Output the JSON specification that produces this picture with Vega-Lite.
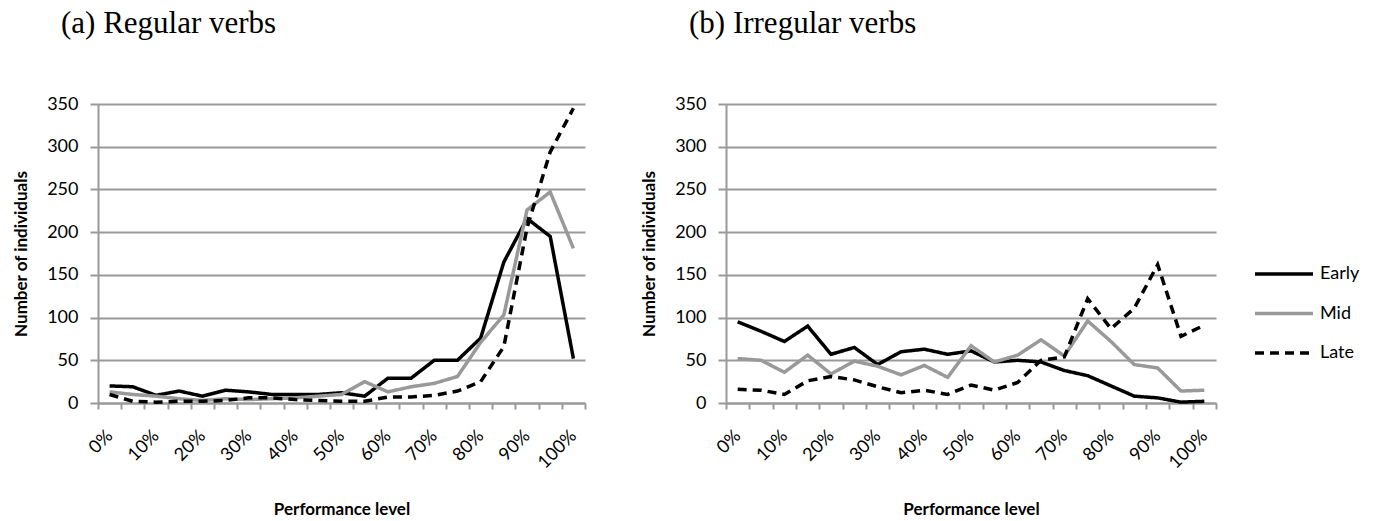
{
  "$schema": "https://vega.github.io/schema/vega-lite/v6.json",
  "background": "white",
  "padding": {"left": 12, "top": 8, "right": 0, "bottom": 0},
  "bounds": "flush",
  "spacing": 141,
  "config": {
    "view": {"stroke": null},
    "font": "Lato",
    "title": {"font": "Liberation Serif", "fontSize": 31, "fontWeight": "normal", "color": "#000000", "anchor": "start", "frame": "group", "dx": -37, "offset": 55},
    "axis": {
      "labelFont": "Lato", "labelFontSize": 18, "labelColor": "#000000",
      "titleFont": "Lato", "titleFontSize": 17, "titleFontWeight": "bold", "titleColor": "#000000",
      "domainColor": "#999999", "domainWidth": 2, "tickColor": "#999999", "tickWidth": 2,
      "gridColor": "#999999", "gridWidth": 2
    },
    "legend": {
      "labelFont": "Lato", "labelFontSize": 18, "labelColor": "#000000"
    }
  },
  "datasets": {
    "regular": [
      {"level":0,"group":"Early","count":20},{"level":5,"group":"Early","count":19},{"level":10,"group":"Early","count":9},{"level":15,"group":"Early","count":14},{"level":20,"group":"Early","count":8},{"level":25,"group":"Early","count":15},{"level":30,"group":"Early","count":13},{"level":35,"group":"Early","count":10},{"level":40,"group":"Early","count":10},{"level":45,"group":"Early","count":10},{"level":50,"group":"Early","count":12},{"level":55,"group":"Early","count":8},{"level":60,"group":"Early","count":29},{"level":65,"group":"Early","count":29},{"level":70,"group":"Early","count":50},{"level":75,"group":"Early","count":50},{"level":80,"group":"Early","count":76},{"level":85,"group":"Early","count":165},{"level":90,"group":"Early","count":216},{"level":95,"group":"Early","count":195},{"level":100,"group":"Early","count":52},
      {"level":0,"group":"Mid","count":13},{"level":5,"group":"Mid","count":10},{"level":10,"group":"Mid","count":8},{"level":15,"group":"Mid","count":5},{"level":20,"group":"Mid","count":3},{"level":25,"group":"Mid","count":5},{"level":30,"group":"Mid","count":4},{"level":35,"group":"Mid","count":5},{"level":40,"group":"Mid","count":6},{"level":45,"group":"Mid","count":8},{"level":50,"group":"Mid","count":10},{"level":55,"group":"Mid","count":25},{"level":60,"group":"Mid","count":13},{"level":65,"group":"Mid","count":19},{"level":70,"group":"Mid","count":23},{"level":75,"group":"Mid","count":31},{"level":80,"group":"Mid","count":71},{"level":85,"group":"Mid","count":103},{"level":90,"group":"Mid","count":226},{"level":95,"group":"Mid","count":247},{"level":100,"group":"Mid","count":181},
      {"level":0,"group":"Late","count":10},{"level":5,"group":"Late","count":2},{"level":10,"group":"Late","count":1},{"level":15,"group":"Late","count":2},{"level":20,"group":"Late","count":2},{"level":25,"group":"Late","count":3},{"level":30,"group":"Late","count":6},{"level":35,"group":"Late","count":6},{"level":40,"group":"Late","count":4},{"level":45,"group":"Late","count":3},{"level":50,"group":"Late","count":2},{"level":55,"group":"Late","count":2},{"level":60,"group":"Late","count":7},{"level":65,"group":"Late","count":7},{"level":70,"group":"Late","count":9},{"level":75,"group":"Late","count":14},{"level":80,"group":"Late","count":25},{"level":85,"group":"Late","count":66},{"level":90,"group":"Late","count":205},{"level":95,"group":"Late","count":294},{"level":100,"group":"Late","count":345}
    ],
    "irregular": [
      {"level":0,"group":"Early","count":95},{"level":5,"group":"Early","count":84},{"level":10,"group":"Early","count":72},{"level":15,"group":"Early","count":90},{"level":20,"group":"Early","count":57},{"level":25,"group":"Early","count":65},{"level":30,"group":"Early","count":45},{"level":35,"group":"Early","count":60},{"level":40,"group":"Early","count":63},{"level":45,"group":"Early","count":57},{"level":50,"group":"Early","count":61},{"level":55,"group":"Early","count":48},{"level":60,"group":"Early","count":50},{"level":65,"group":"Early","count":48},{"level":70,"group":"Early","count":38},{"level":75,"group":"Early","count":32},{"level":80,"group":"Early","count":20},{"level":85,"group":"Early","count":8},{"level":90,"group":"Early","count":6},{"level":95,"group":"Early","count":1},{"level":100,"group":"Early","count":2},
      {"level":0,"group":"Mid","count":52},{"level":5,"group":"Mid","count":50},{"level":10,"group":"Mid","count":36},{"level":15,"group":"Mid","count":56},{"level":20,"group":"Mid","count":34},{"level":25,"group":"Mid","count":49},{"level":30,"group":"Mid","count":43},{"level":35,"group":"Mid","count":33},{"level":40,"group":"Mid","count":44},{"level":45,"group":"Mid","count":30},{"level":50,"group":"Mid","count":67},{"level":55,"group":"Mid","count":48},{"level":60,"group":"Mid","count":56},{"level":65,"group":"Mid","count":74},{"level":70,"group":"Mid","count":55},{"level":75,"group":"Mid","count":96},{"level":80,"group":"Mid","count":72},{"level":85,"group":"Mid","count":45},{"level":90,"group":"Mid","count":41},{"level":95,"group":"Mid","count":14},{"level":100,"group":"Mid","count":15},
      {"level":0,"group":"Late","count":16},{"level":5,"group":"Late","count":15},{"level":10,"group":"Late","count":10},{"level":15,"group":"Late","count":26},{"level":20,"group":"Late","count":31},{"level":25,"group":"Late","count":27},{"level":30,"group":"Late","count":19},{"level":35,"group":"Late","count":12},{"level":40,"group":"Late","count":15},{"level":45,"group":"Late","count":10},{"level":50,"group":"Late","count":21},{"level":55,"group":"Late","count":15},{"level":60,"group":"Late","count":24},{"level":65,"group":"Late","count":50},{"level":70,"group":"Late","count":54},{"level":75,"group":"Late","count":122},{"level":80,"group":"Late","count":87},{"level":85,"group":"Late","count":111},{"level":90,"group":"Late","count":162},{"level":95,"group":"Late","count":78},{"level":100,"group":"Late","count":91}
    ]
  },
  "resolve": {
    "scale": {"color": "independent", "strokeDash": "independent"},
    "legend": {"color": "independent", "strokeDash": "independent"}
  },
  "hconcat": [
    {
      "title": "(a) Regular verbs",
      "width": 487,
      "height": 299,
      "data": {"name": "regular"},
      "mark": {"type": "line", "strokeWidth": 3.5},
      "encoding": {
        "x": {"field": "level", "type": "ordinal", "title": "Performance level",
          "scale": {"type": "band", "paddingInner": 0, "paddingOuter": 0},
          "axis": {"tickBand": "extent", "tickSize": 6, "labelAngle": -45, "labelAlign": "right", "labelBaseline": "middle", "labelPadding": 24, "labelOverlap": false, "labelExpr": "datum.value % 10 == 0 ? datum.value + '%' : ''", "titlePadding": 30}},
        "y": {"field": "count", "type": "quantitative", "title": "Number of individuals",
          "scale": {"domain": [0, 350], "nice": false},
          "axis": {"values": [0,50,100,150,200,250,300,350], "tickSize": 8, "labelPadding": 12, "titlePadding": 16}},
        "color": {"field": "group", "type": "nominal", "legend": null,
          "scale": {"domain": ["Early","Mid","Late"], "range": ["#000000","#999999","#000000"]}},
        "strokeDash": {"field": "group", "type": "nominal", "legend": null,
          "scale": {"domain": ["Early","Mid","Late"], "range": [[1,0],[1,0],[9,6]]}}
      }
    },
    {
      "title": "(b) Irregular verbs",
      "width": 490,
      "height": 299,
      "data": {"name": "irregular"},
      "mark": {"type": "line", "strokeWidth": 3.5},
      "encoding": {
        "x": {"field": "level", "type": "ordinal", "title": "Performance level",
          "scale": {"type": "band", "paddingInner": 0, "paddingOuter": 0},
          "axis": {"tickBand": "extent", "tickSize": 6, "labelAngle": -45, "labelAlign": "right", "labelBaseline": "middle", "labelPadding": 24, "labelOverlap": false, "labelExpr": "datum.value % 10 == 0 ? datum.value + '%' : ''", "titlePadding": 30}},
        "y": {"field": "count", "type": "quantitative", "title": "Number of individuals",
          "scale": {"domain": [0, 350], "nice": false},
          "axis": {"values": [0,50,100,150,200,250,300,350], "tickSize": 8, "labelPadding": 12, "titlePadding": 16}},
        "color": {"field": "group", "type": "nominal",
          "scale": {"domain": ["Early","Mid","Late"], "range": ["#000000","#999999","#000000"]},
          "legend": {"title": null, "orient": "none", "legendX": 527, "legendY": 160, "padding": 0,
            "symbolType": "stroke", "symbolSize": 3364, "symbolStrokeWidth": 3.5, "clipHeight": 20, "rowPadding": 19.5, "labelOffset": 5}},
        "strokeDash": {"field": "group", "type": "nominal",
          "scale": {"domain": ["Early","Mid","Late"], "range": [[1,0],[1,0],[9,6]]},
          "legend": {"title": null, "orient": "none", "legendX": 527, "legendY": 160, "padding": 0,
            "symbolType": "stroke", "symbolSize": 3364, "symbolStrokeWidth": 3.5, "clipHeight": 20, "rowPadding": 19.5, "labelOffset": 5}}
      }
    }
  ]
}
